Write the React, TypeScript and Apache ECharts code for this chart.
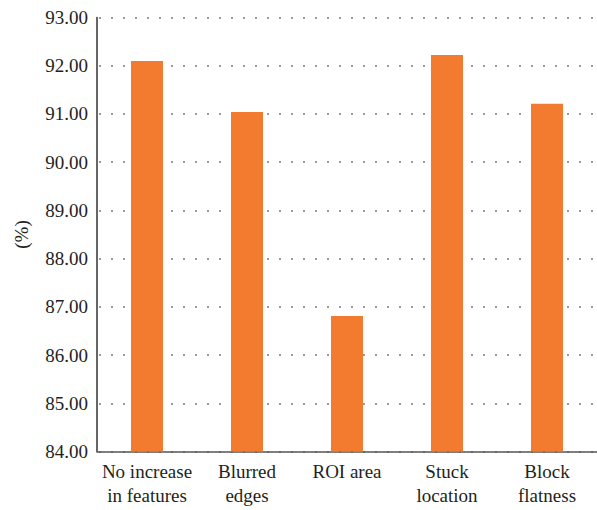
import React, { useEffect, useRef } from "react";
import * as echarts from "echarts";

const categories = ["No increase\nin features", "Blurred\nedges", "ROI area", "Stuck\nlocation", "Block\nflatness"];
const values = [92.1, 91.04, 86.81, 92.22, 91.21];
const yMin = 84;
const yMax = 93;
const yInterval = 1;
const yAxisName = "(%)";

export default function App() {
  const ref = useRef<HTMLDivElement>(null);
  useEffect(() => {
    if (!ref.current) return;
    const chart = echarts.init(ref.current, null, { renderer: "svg" });
    const font = "Liberation Serif";
    chart.setOption({
      animation: false,
      backgroundColor: "#ffffff",
      textStyle: { fontFamily: font },
      grid: { left: 97, top: 17.5, width: 509, height: 434 },
      xAxis: {
        type: "category",
        data: categories,
        axisLine: { show: true, lineStyle: { color: "#555555", width: 1.5 } },
        axisTick: { show: false },
        axisLabel: {
          color: "#231f20",
          fontFamily: font,
          fontSize: 19,
          lineHeight: 24,
          margin: 8,
          interval: 0,
        },
      },
      yAxis: {
        type: "value",
        min: yMin,
        max: yMax,
        interval: yInterval,
        name: yAxisName,
        nameLocation: "middle",
        nameGap: 66,
        nameTextStyle: { color: "#231f20", fontFamily: font, fontSize: 19 },
        axisLine: { show: true, lineStyle: { color: "#333333", width: 1.5 } },
        axisTick: { show: false },
        axisLabel: {
          color: "#231f20",
          fontFamily: font,
          fontSize: 19,
          margin: 9,
          formatter: (v: number) => v.toFixed(2),
        },
        splitLine: {
          show: true,
          lineStyle: { color: "#9a9a9a", width: 2, type: [2, 10], dashOffset: -2 },
        },
      },
      series: [
        {
          type: "bar",
          data: values,
          barWidth: 32,
          itemStyle: { color: "#F37B2F" },
        },
      ],
    });
    return () => chart.dispose();
  }, []);
  return (
    <div
      ref={ref}
      style={{ position: "fixed", left: 0, top: 0, width: 597, height: 510, background: "#fff" }}
    />
  );
}
